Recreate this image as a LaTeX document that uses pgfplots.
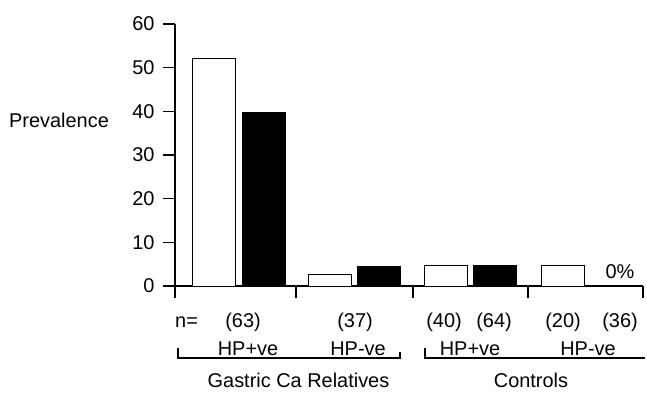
\documentclass[border=0pt]{standalone}
\usepackage{fontspec}
\setmainfont{Liberation Sans}
\usepackage{pgfplots}
\pgfplotsset{compat=1.18}
\newcommand\f{\fontsize{20}{22}\selectfont}
\begin{document}
\begin{tikzpicture}[x=1bp,y=1bp]
\path[use as bounding box] (0,0) rectangle (647,392);
\begin{axis}[
  at={(175bp,106bp)}, anchor=south west,
  scale only axis, width=468bp, height=262bp,
  xmin=175, xmax=643, ymin=0, ymax=60,
  axis lines*=left,
  axis line style={line width=1.4bp},
  xtick={175,296,413,528,643}, xticklabels={},
  ytick={0,10,...,60},
  tick align=outside,
  major tick length=12bp,
  tick style={line width=1.4bp, black},
  yticklabel style={font=\f, xshift=-5bp},
  /pgf/number format/assume math mode=true,
  ybar, bar width=43,
  clip=false,
]
\addplot[bar shift=0pt, draw=black, fill=white, line width=1bp] coordinates {(213.5,52.1) (329.5,2.7) (446,4.6) (563,4.8)};
\addplot[bar shift=0pt, draw=black, fill=black, line width=1bp] coordinates {(263.5,39.7) (379,4.4) (495,4.6) (612,0)};
\end{axis}
\begin{scope}[every node/.style={inner sep=0pt, anchor=base, font=\f}]
\node[anchor=base west] at (9,265) {Prevalence};
\node[anchor=base west] at (175,65) {n=};
\node at (243,65) {(63)};
\node at (355,65) {(37)};
\node at (444,65) {(40)};
\node at (494,65) {(64)};
\node at (563,65) {(20)};
\node at (620,65) {(36)};
\node at (248,37) {HP+ve};
\node at (358,37) {HP-ve};
\node at (470,37) {HP+ve};
\node at (588,37) {HP-ve};
\node at (298.5,5) {Gastric Ca Relatives};
\node at (531,5) {Controls};
\node at (620,114) {0\%};
\end{scope}
\draw[line width=1.5bp] (178,44)--(178,34)--(400,34)--(400,40);
\draw[line width=1.5bp] (425,44)--(425,34)--(645,34);
\end{tikzpicture}
\end{document}
